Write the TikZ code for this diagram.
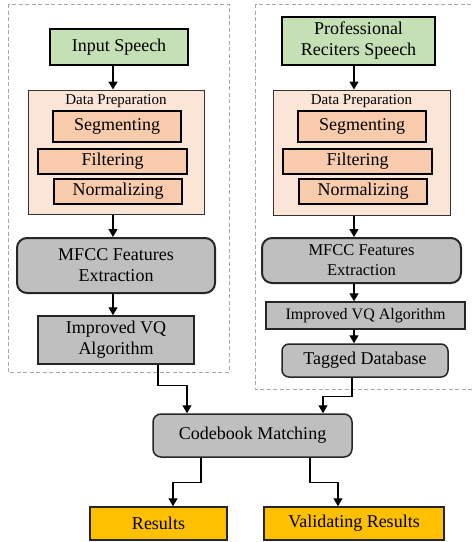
\documentclass[tikz,border=0pt]{standalone}
\usepackage{fontspec}
\setmainfont{Liberation Serif}
\usepackage{xcolor}
\usetikzlibrary{positioning,arrows.meta}

\definecolor{speechgreen}{HTML}{C5E0B4}
\definecolor{prepback}{HTML}{FBE5D6}
\definecolor{stepfill}{HTML}{F8CBAD}
\definecolor{procgray}{HTML}{BFBFBF}
\definecolor{resgold}{HTML}{FFC000}
\definecolor{framegray}{HTML}{A6A6A6}

\begin{document}
\begin{tikzpicture}[
    x=1pt,
    y=-1pt,
    ->,
    >={Triangle[length=8pt,width=9pt]},
    line width=1.3pt
]

\tikzstyle{speech}=[
    rectangle,
    draw,
    fill=speechgreen,
    line width=2pt,
    inner sep=0pt,
    align=center,
    font=\fontsize{18}{21}\selectfont
]
\tikzstyle{prep}=[
    rectangle,
    draw=black!80,
    fill=prepback,
    line width=1pt,
    inner sep=0pt
]
\tikzstyle{stepbox}=[
    rectangle,
    draw,
    fill=stepfill,
    line width=1.4pt,
    inner sep=0pt,
    font=\fontsize{18}{21}\selectfont
]
\tikzstyle{proc}=[
    rectangle,
    draw=black!85,
    fill=procgray,
    line width=1.5pt,
    inner sep=0pt,
    align=center,
    font=\fontsize{18}{21}\selectfont
]
\tikzstyle{result}=[
    rectangle,
    draw=black!85,
    fill=resgold,
    line width=1.5pt,
    inner sep=0pt,
    font=\fontsize{18}{21}\selectfont
]
\tikzstyle{frame}=[
    -,
    draw=framegray,
    line width=0.8pt,
    dash pattern=on 4pt off 2.5pt
]

\clip (0,0) rectangle (473,542);

% dashed groups
\draw[frame] (8,4) rectangle (229,372);
\draw[frame] (255,4) rectangle (485,389);

\coordinate (axL) at (113,0);
\coordinate (axR) at (354,0);

% left column
\node[speech, minimum width=138pt, minimum height=36pt] (inL) at (119,47) {Input Speech};
\node[prep, minimum width=176pt, minimum height=124pt,
    label={[anchor=north, inner sep=4pt, font=\fontsize{15}{17}\selectfont]north:Data Preparation}] (prepL) at (116,152) {};
\node[stepbox, minimum width=128pt, minimum height=31pt] (segL) at (117,126.5) {Segmenting};
\node[stepbox, minimum width=149pt, minimum height=25pt] (filL) at (112.5,161.5) {Filtering};
\node[stepbox, minimum width=128pt, minimum height=25pt] (norL) at (118,191.5) {Normalizing};
\node[proc, rounded corners=10pt, line width=2pt, minimum width=198pt, minimum height=55pt] (mfccL) at (116,265.5) {MFCC Features\\Extraction};
\node[proc, minimum width=156pt, minimum height=48pt] (vqL) at (116,340) {Improved VQ\\Algorithm};

% right column
\node[speech, minimum width=153pt, minimum height=48pt] (inR) at (358.5,41) {Professional\\Reciters Speech};
\node[prep, minimum width=177pt, minimum height=125pt,
    label={[anchor=north, inner sep=4pt, font=\fontsize{15}{17}\selectfont]north:Data Preparation}] (prepR) at (361.5,152.5) {};
\node[stepbox, minimum width=128pt, minimum height=31pt] (segR) at (362,126.5) {Segmenting};
\node[stepbox, minimum width=149pt, minimum height=25pt] (filR) at (357.5,161.5) {Filtering};
\node[stepbox, minimum width=128pt, minimum height=25pt] (norR) at (363,191.5) {Normalizing};
\node[proc, rounded corners=10pt, line width=2pt, minimum width=199pt, minimum height=45pt,
    font=\fontsize{16.5}{20}\selectfont] (mfccR) at (361.5,260.5) {MFCC Features\\Extraction};
\node[proc, minimum width=199pt, minimum height=27pt, font=\fontsize{16}{19}\selectfont] (vqR) at (365.5,315.5) {Improved VQ Algorithm};
\node[proc, rounded corners=7pt, minimum width=166pt, minimum height=33pt] (tagR) at (365,360.5) {Tagged Database};

% matching and results
\node[proc, rounded corners=8pt, minimum width=199pt, minimum height=43pt] (cbm) at (252.5,435.5) {Codebook Matching};
\node[result, minimum width=137pt, minimum height=33pt] (res) at (158.5,523.5) {Results};
\node[result, minimum width=180pt, minimum height=33pt] (val) at (354,523.5) {Validating Results};

% flow
\draw (inL.south -| axL) -- (prepL.north -| axL);
\draw (prepL.south -| axL) -- (mfccL.north -| axL);
\draw (mfccL.south -| axL) -- (vqL.north -| axL);

\draw (inR.south -| axR) -- (prepR.north -| axR);
\draw (prepR.south -| axR) -- (mfccR.north -| axR);
\draw (mfccR.south -| axR) -- (vqR.north -| axR);
\draw (vqR.south -| axR) -- (tagR.north -| axR);

\draw ([xshift=42pt]vqL.south) -- ++(0,21) -| ([xshift=-65.5pt]cbm.north);
\draw ([xshift=-13pt]tagR.south) -- ++(0,19) -| ([xshift=70.5pt]cbm.north);

\draw ([xshift=-51.5pt]cbm.south) -- ++(0,25) -| ([xshift=14.5pt]res.north);
\draw ([xshift=57.5pt]cbm.south) -- ++(0,25) -| ([xshift=-16pt]val.north);

\end{tikzpicture}
\end{document}
